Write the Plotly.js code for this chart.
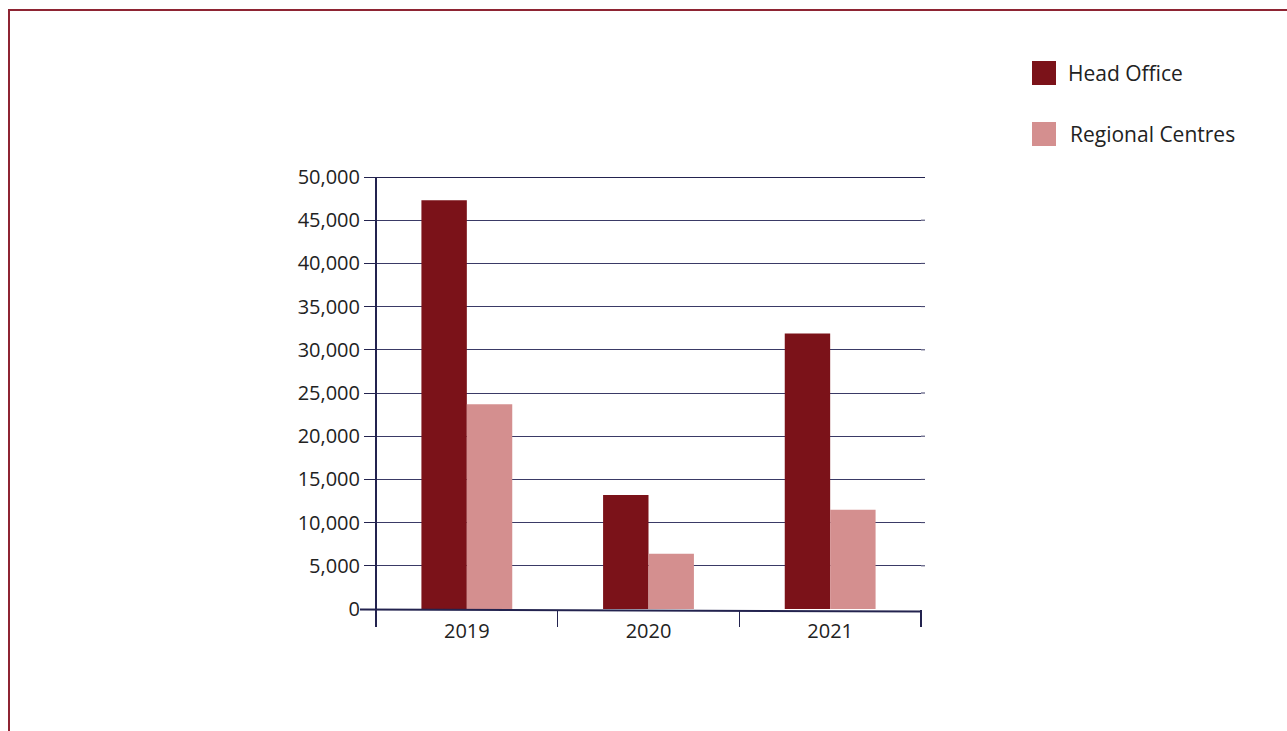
<!DOCTYPE html>
<html>
<head>
<meta charset="utf-8">
<script src="https://cdn.plot.ly/plotly-3.0.1.min.js"></script>
<style>
  html, body { margin: 0; padding: 0; background: #fff; overflow: hidden; }
  #frame { position: absolute; left: 8px; top: 9px; width: 1400px; height: 800px;
           border-top: 2px solid #8e2433; border-left: 2px solid #8e2433; box-sizing: border-box; pointer-events: none; z-index: 5; }
  #chart { position: absolute; left: 0; top: 0; width: 1287px; height: 731px; }
</style>
</head>
<body>
<div id="chart"></div>
<div id="frame"></div>
<script>
const years = ['2019', '2020', '2021'];
const headOffice = [47300, 13200, 31900];
const regionalCentres = [23700, 6400, 11500];
const seriesNames = ['Head Office', 'Regional Centres'];
const seriesColors = ['#7b1219', '#d48f8f'];
const yTicks = [0, 5000, 10000, 15000, 20000, 25000, 30000, 35000, 40000, 45000, 50000];

const W = 1287, H = 731;
const L = 376, R = 921, T = 177, B = 609;
const pw = R - L, ph = B - T;
function px(x) { return (x - L) / pw; }
function py(y) { return (B - y) / ph; }

const traces = [
  { type: 'bar', name: seriesNames[0], x: years, y: headOffice, marker: { color: seriesColors[0] }, showlegend: false, hoverinfo: 'x+y+name' },
  { type: 'bar', name: seriesNames[1], x: years, y: regionalCentres, marker: { color: seriesColors[1] }, showlegend: false, hoverinfo: 'x+y+name' }
];

const navy = '#23234f';
const grid = '#3a3a66';
const layout = {
  width: W, height: H,
  margin: { l: L, r: W - R, t: T, b: H - B, pad: 0 },
  paper_bgcolor: '#ffffff', plot_bgcolor: '#ffffff',
  font: { family: 'Open Sans, sans-serif', color: '#222222', size: 20 },
  barmode: 'group', bargap: 0.5, bargroupgap: 0,
  xaxis: {
    type: 'category', tickson: 'boundaries', ticks: 'outside', ticklen: 17, tickwidth: 1.5, tickcolor: navy,
    showline: false, showgrid: false, zeroline: false,
    tickfont: { size: 20, color: '#222' }, ticklabelstandoff: 8, fixedrange: true
  },
  yaxis: {
    range: [0, 50000], tickvals: yTicks, tickformat: ',d', ticks: 'outside', ticklen: 11, tickcolor: navy, tickwidth: 1,
    showgrid: true, gridcolor: grid, gridwidth: 1, showline: false, zeroline: false,
    tickfont: { size: 20, color: '#222' }, fixedrange: true
  },
  shapes: [
    // top gridline
    { type: 'line', xref: 'paper', yref: 'paper', x0: 0, x1: px(925), y0: py(177.5), y1: py(177.5), line: { color: navy, width: 1 } },
    // grid extension to right
    ...yTicks.slice(1, -1).map(v => ({ type: 'line', xref: 'paper', yref: 'y', x0: 1, x1: px(925), y0: v, y1: v, line: { color: grid, width: 1 } })),
    // y axis line (extends below baseline)
    { type: 'line', xref: 'paper', yref: 'paper', x0: px(376), x1: px(376), y0: py(177), y1: py(625), line: { color: navy, width: 2 } },
    // x axis line (extends left)
    { type: 'line', xref: 'paper', yref: 'paper', x0: px(360), x1: px(921), y0: py(609.5), y1: py(611.5), line: { color: navy, width: 2 } },
    // legend swatches
    { type: 'rect', xref: 'paper', yref: 'paper', x0: px(1032), x1: px(1056), y0: py(61), y1: py(85), fillcolor: seriesColors[0], line: { width: 0 } },
    { type: 'rect', xref: 'paper', yref: 'paper', x0: px(1032), x1: px(1056), y0: py(122), y1: py(146), fillcolor: seriesColors[1], line: { width: 0 } }
  ],
  annotations: [
    { xref: 'paper', yref: 'paper', x: px(1066), y: py(73), xanchor: 'left', yanchor: 'middle', showarrow: false, text: seriesNames[0], font: { size: 21, color: '#222' } },
    { xref: 'paper', yref: 'paper', x: px(1068), y: py(134), xanchor: 'left', yanchor: 'middle', showarrow: false, text: seriesNames[1], font: { size: 21, color: '#222' } }
  ]
};

Plotly.newPlot('chart', traces, layout, { displayModeBar: false, staticPlot: true });
</script>
</body>
</html>
